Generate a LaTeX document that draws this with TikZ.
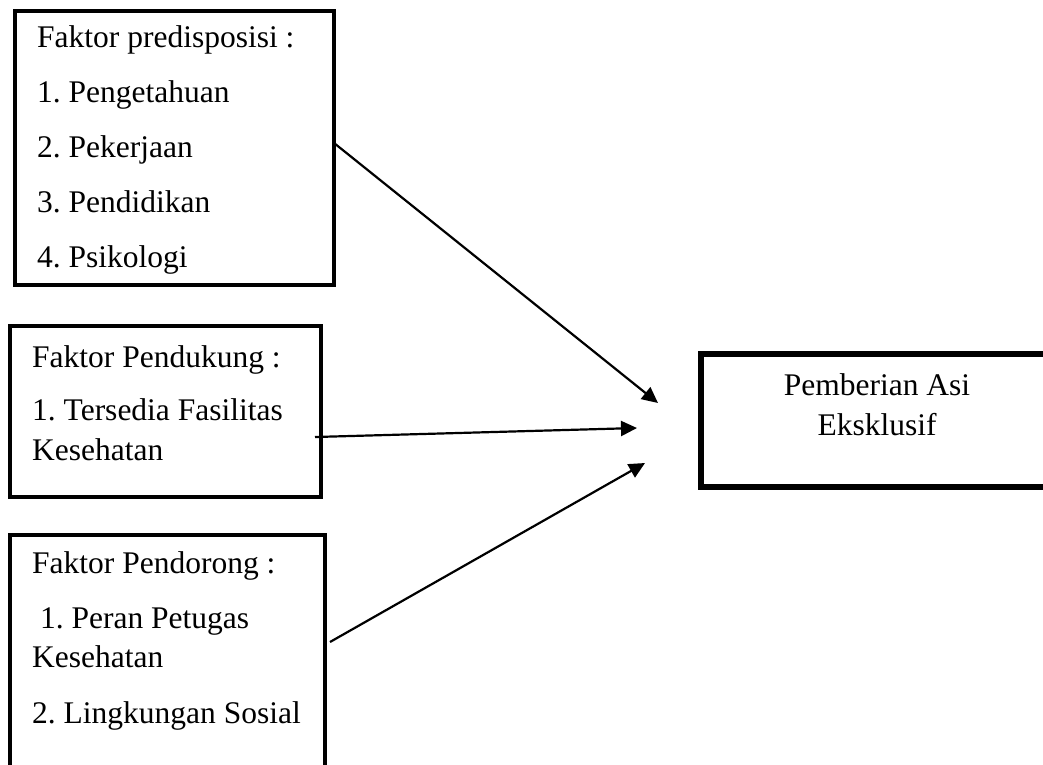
\documentclass[tikz,border=0pt]{standalone}
\usepackage{fontspec}
\setmainfont{Liberation Serif}
\usetikzlibrary{arrows.meta}
\frenchspacing

\tikzset{
  box/.style={draw, rectangle, line width=4pt, inner sep=0pt, outer sep=0pt, anchor=north west},
  txt/.style={anchor=base west, inner sep=0pt, font=\fontsize{31.5}{36}\selectfont},
  arr/.style={-{Triangle[length=16pt,width=15pt]}, line width=2.2pt}
}

\begin{document}
\begin{tikzpicture}[x=1pt,y=-1pt]
\useasboundingbox (0,0) rectangle (1043,764);

% the boxes
\node[box, minimum width=319pt, minimum height=274pt] (pre) at (15,11) {};
\node[box, minimum width=311pt, minimum height=171pt] (sup) at (10,326) {};
\node[box, minimum width=315pt, minimum height=260pt] (dor) at (10,535) {};
\node[box, line width=5.5pt, minimum width=400pt, minimum height=133pt] (asi) at (701,354) {};

% Faktor predisposisi
\node[txt] (p0) at (37,47) {Faktor predisposisi :};
\node[txt] (p1) at (37,102) {1. Pengetahuan};
\node[txt] (p2) at (37,157) {2. Pekerjaan};
\node[txt] (p3) at (37,212) {3. Pendidikan};
\node[txt] (p4) at (37,267) {4. Psikologi};

% Faktor Pendukung
\node[txt] (d0) at (32,367) {Faktor Pendukung :};
\node[txt] (d1) at (32,420) {1. Tersedia Fasilitas};
\node[txt] (d2) at (32,460) {Kesehatan};

% Faktor Pendorong
\node[txt] (r0) at (32,573) {Faktor Pendorong :};
\node[txt] (r1) at (32,628) {\ 1. Peran Petugas};
\node[txt] (r2) at (32,667) {Kesehatan};
\node[txt] (r3) at (32,723) {2. Lingkungan Sosial};

% Pemberian Asi Eksklusif
\node[txt, anchor=base] (a0) at (877,395) {Pemberian Asi};
\node[txt, anchor=base] (a1) at (877,435) {Eksklusif};

% arrows
\coordinate (e1) at (658,403);
\coordinate (e2) at (637,428);
\coordinate (e3) at (645,463);
\draw[arr] ([yshift=5pt]pre.east) -- (e1);
\draw[arr] ([xshift=-6pt,yshift=-25.5pt]sup.east) -- (e2);
\draw[arr] ([xshift=5pt,yshift=23pt]dor.east) -- (e3);

\end{tikzpicture}
\end{document}
